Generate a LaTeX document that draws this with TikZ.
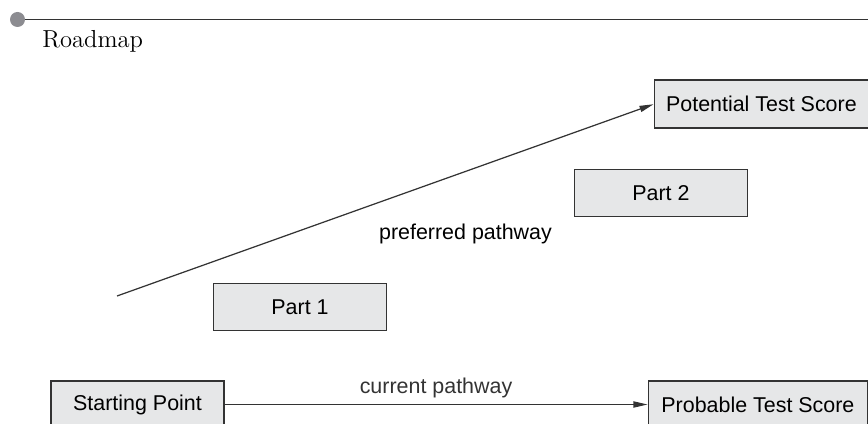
\documentclass[tikz,border=0pt]{standalone}
\usepackage{fontspec}
\setsansfont{Liberation Sans}
\usetikzlibrary{arrows.meta, positioning}
\definecolor{boxfill}{HTML}{E6E7E8}
\definecolor{boxline}{HTML}{333333}
\definecolor{dotgray}{HTML}{8C8C91}
\tikzset{
  part/.style={
    rectangle,
    minimum width=3.47cm, minimum height=0.94cm,
    text centered, inner sep=0pt,
    draw=boxline, line width=0.6pt, fill=boxfill,
    font=\sffamily\fontsize{12.2}{14}\selectfont
  },
  score/.style={
    part, line width=1pt
  },
  pathlabel/.style={
    font=\sffamily\fontsize{12.2}{14}\selectfont
  },
  arrow/.style={-{Triangle[length=8pt, width=3.5pt]}, line width=0.7pt, boxline}
}
\begin{document}
\begin{tikzpicture}

  \useasboundingbox (0,0) rectangle (17.36,8.46);

  % heading rule
  \fill[dotgray] (0.35,8.07) circle (0.15);
  \draw[boxline, line width=0.7pt] (0.5,8.07) coordinate (rulestart) -- (17.36,8.07) coordinate (ruleend);
  \node[anchor=base west, inner sep=0pt, font=\fontsize{14}{16}\selectfont] (title) at (0.84,7.5) {Roadmap};

  \node[part, minimum width=3.46cm] (start) at (2.75,0.37) {Starting Point};

  \node[score, minimum width=4.38cm, right=8.46cm of start] (probable) {Probable Test Score};

  \node[part, above=0.98cm of start, xshift=3.25cm] (part1) {Part 1};

  \node[score, minimum width=4.28cm, minimum height=0.96cm, above=5.02cm of probable, xshift=0.07cm] (potential) {Potential Test Score};

  \node[part, minimum height=0.93cm, below=0.8cm of potential, xshift=-2.01cm] (part2) {Part 2};

  \coordinate (prefstart) at (2.34,2.54);
  \node[pathlabel, anchor=base] (preflabel) at (9.31,3.66) {preferred pathway};

  \draw[arrow] (start) -- node[pathlabel, above] (currlabel) {current pathway} (probable);
  \draw[arrow] (prefstart) -- (potential.west);

\end{tikzpicture}
\end{document}
